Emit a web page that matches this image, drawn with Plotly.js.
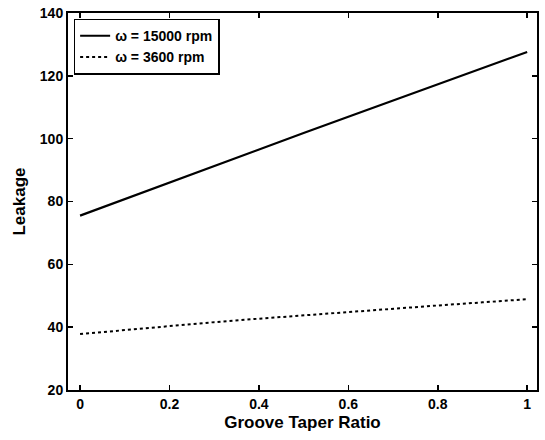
<!DOCTYPE html>
<html><head><meta charset="utf-8">
<script src="https://cdn.plot.ly/plotly-3.0.1.min.js"></script>
<style>html,body{margin:0;padding:0;background:#fff}#chart{width:545px;height:440px}</style>
</head><body><div id="chart"></div>
<script>
const taperRatio = [0, 0.1, 0.2, 0.3, 0.4, 0.5, 0.6, 0.7, 0.8, 0.9, 1.0];
const leakage15000 = [75.5, 80.8, 86.1, 91.4, 96.6, 101.8, 107.0, 112.2, 117.3, 122.5, 127.6];
const leakage3600 = [37.8, 39.1, 40.4, 41.6, 42.7, 43.8, 44.9, 45.9, 46.9, 47.9, 48.9];
const seriesNames = ["ω = 15000 rpm", "ω = 3600 rpm"];
const xTicks = [0, 0.2, 0.4, 0.6, 0.8, 1];
const xTickText = ["0", "0.2", "0.4", "0.6", "0.8", "1"];
const yTicks = [20, 40, 60, 80, 100, 120, 140];

const font = {family: "Liberation Sans, Arial, sans-serif", color: "#000"};
const traces = [
  {x: taperRatio, y: leakage15000, name: seriesNames[0], mode: "lines", line: {color: "#000", width: 2.2, dash: "solid"}},
  {x: taperRatio, y: leakage3600, name: seriesNames[1], mode: "lines", line: {color: "#000", width: 2, dash: "dot"}}
];
const axisCommon = {showgrid: false, zeroline: false, showline: true, linecolor: "#000", linewidth: 2, mirror: "ticks", ticks: "inside", ticklen: 5, tickwidth: 1.5, tickcolor: "#000", tickfont: {family: font.family, size: 14, color: "#000", weight: "bold"}};
const layout = {
  width: 545, height: 440,
  margin: {l: 68, r: 8, t: 13, b: 50},
  paper_bgcolor: "#fff", plot_bgcolor: "#fff",
  font: font,
  showlegend: true,
  legend: {x: 0.012, y: 0.985, xanchor: "left", yanchor: "top", bgcolor: "#fff", bordercolor: "#000", borderwidth: 1.5, font: {family: font.family, size: 14, color: "#000", weight: "bold"}, itemwidth: 30, tracegroupgap: 0},
  xaxis: Object.assign({}, axisCommon, {range: [-0.027, 1.022], tickvals: xTicks, ticktext: xTickText, title: {text: "Groove Taper Ratio", font: {family: font.family, size: 17, color: "#000", weight: "bold"}, standoff: 5}}),
  yaxis: Object.assign({}, axisCommon, {range: [20, 140], tickvals: yTicks, title: {text: "Leakage", font: {family: font.family, size: 17, color: "#000", weight: "bold"}, standoff: 10}})
};
Plotly.newPlot("chart", traces, layout, {displayModeBar: false, staticPlot: true});
</script></body></html>
